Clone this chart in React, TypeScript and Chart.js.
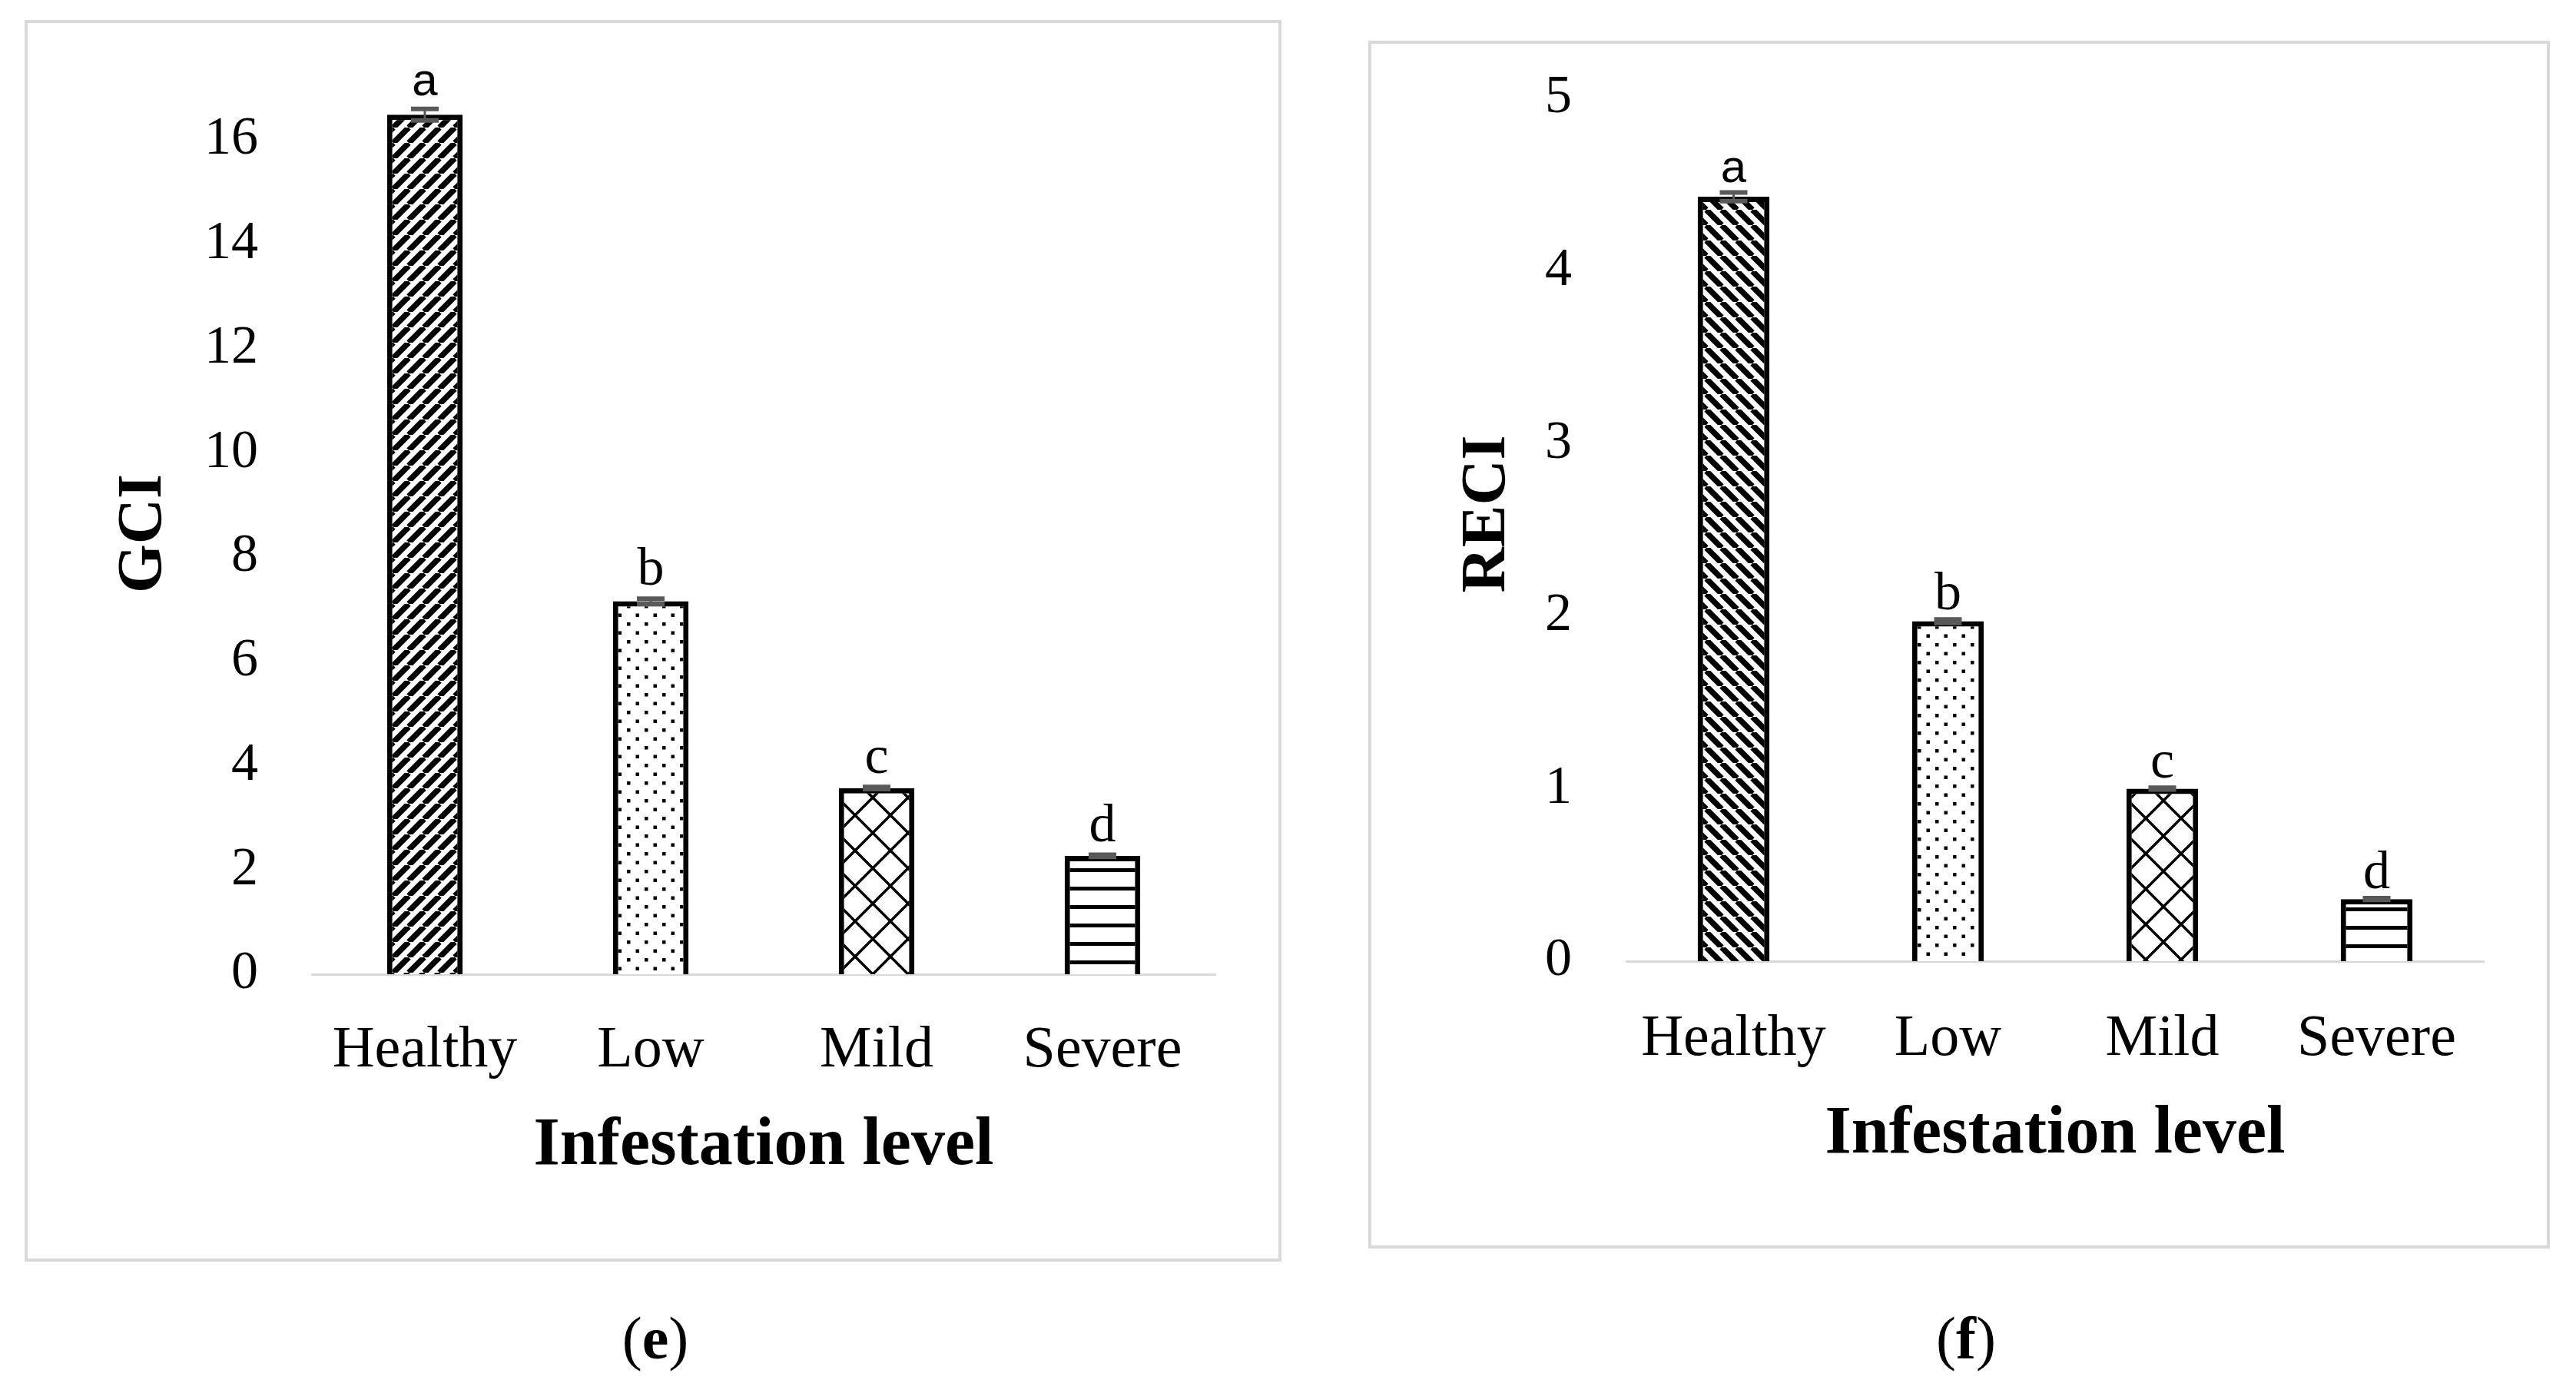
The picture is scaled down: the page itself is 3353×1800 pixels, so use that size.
import React, { useEffect, useRef } from 'react';
import { Chart, registerables } from 'chart.js';

Chart.register(...registerables);

// ---------- data ----------
const categories = ['Healthy', 'Low', 'Mild', 'Severe'];

const gciValues = [16.48, 7.15, 3.57, 2.27];
const gciErrors = [0.11, 0.05, 0.02, 0.02];
const gciLetters = ['a', 'b', 'c', 'd'];
const gciMax = 17.5;
const gciStep = 2;

const reciValues = [4.43, 1.97, 1.0, 0.36];
const reciErrors = [0.025, 0.01, 0.005, 0.005];
const reciLetters = ['a', 'b', 'c', 'd'];
const reciMax = 5;
const reciStep = 1;

const patternKinds = ['diagUp', 'dots', 'diamonds', 'hlines'];
const patternKindsRight = ['diagDown', 'dots', 'diamonds', 'hlines'];

const SERIF = "'Liberation Serif', 'Times New Roman', serif";
const SANS = "'Liberation Sans', Arial, sans-serif";

function makePattern(kind: string): CanvasPattern {
  const c = document.createElement('canvas');
  let w = 20;
  let h = 20;
  if (kind === 'dots') { w = 23; h = 23; }
  if (kind === 'diamonds') { w = 46; h = 46; }
  if (kind === 'hlines') { w = 8; h = 24; }
  c.width = w;
  c.height = h;
  const ctx = c.getContext('2d')!;
  ctx.fillStyle = '#fff';
  ctx.fillRect(0, 0, w, h);
  ctx.fillStyle = '#000';
  ctx.strokeStyle = '#000';
  if (kind === 'diagUp' || kind === 'diagDown') {
    ctx.lineWidth = 7.5;
    ctx.beginPath();
    for (const k of [-1, 0, 1]) {
      if (kind === 'diagUp') {
        ctx.moveTo(k * w, h);
        ctx.lineTo(k * w + w, 0);
      } else {
        ctx.moveTo(k * w, 0);
        ctx.lineTo(k * w + w, h);
      }
    }
    ctx.stroke();
  } else if (kind === 'dots') {
    ctx.fillRect(2, 2, 4.5, 4.5);
    ctx.fillRect(13.5, 13.5, 4.5, 4.5);
  } else if (kind === 'diamonds') {
    ctx.lineWidth = 3.5;
    ctx.beginPath();
    ctx.moveTo(0, 0);
    ctx.lineTo(w, h);
    ctx.moveTo(w, 0);
    ctx.lineTo(0, h);
    ctx.stroke();
  } else if (kind === 'hlines') {
    ctx.fillRect(0, 0, w, 5);
  }
  return ctx.createPattern(c, 'repeat')!;
}

const barExtras = {
  id: 'barExtras',
  afterDatasetsDraw(chart: any, _args: any, opts: any) {
    const { ctx } = chart;
    const meta = chart.getDatasetMeta(0);
    const yScale = chart.scales.y;
    ctx.save();
    meta.data.forEach((bar: any, i: number) => {
      const x = bar.x;
      const yHi = yScale.getPixelForValue(opts.values[i] + opts.errors[i]);
      const yLo = yScale.getPixelForValue(opts.values[i] - opts.errors[i]);
      ctx.strokeStyle = '#595959';
      ctx.lineWidth = 6;
      ctx.beginPath();
      ctx.moveTo(x - 18, yHi);
      ctx.lineTo(x + 18, yHi);
      ctx.moveTo(x - 18, yLo);
      ctx.lineTo(x + 18, yLo);
      ctx.stroke();
      ctx.lineWidth = 3;
      ctx.beginPath();
      ctx.moveTo(x, yHi);
      ctx.lineTo(x, yLo);
      ctx.stroke();
      const L = opts.letters[i];
      ctx.font = L === 'a' ? `60px ${SANS}` : `70px ${SERIF}`;
      ctx.fillStyle = '#000';
      ctx.textAlign = 'center';
      ctx.textBaseline = 'alphabetic';
      ctx.fillText(L, x, yHi - opts.gap);
    });
    ctx.restore();
  },
};

type PanelProps = {
  left: number;
  top: number;
  width: number;
  height: number;
  values: number[];
  errors: number[];
  letters: string[];
  kinds: string[];
  yTitle: string;
  yMax: number;
  yStep: number;
  yAxisWidth: number;
  padTop: number;
  tickPad: number;
  catPad: number;
  xTitlePad: number;
  gap: number;
};

function Panel(p: PanelProps) {
  const ref = useRef<HTMLCanvasElement | null>(null);
  useEffect(() => {
    if (!ref.current) return;
    const patterns = p.kinds.map(makePattern);
    const chart = new Chart(ref.current, {
      type: 'bar',
      data: {
        labels: categories,
        datasets: [
          {
            data: p.values,
            backgroundColor: patterns as any,
            borderColor: '#000',
            borderWidth: 7,
            borderSkipped: 'start',
            categoryPercentage: 0.335,
            barPercentage: 1,
          },
        ],
      },
      options: {
        animation: false,
        responsive: false,
        devicePixelRatio: 1,
        layout: { padding: { top: p.padTop, right: 86, bottom: 0, left: 0 } },
        plugins: {
          legend: { display: false },
          tooltip: { enabled: false },
          barExtras: { values: p.values, errors: p.errors, letters: p.letters, gap: p.gap },
        } as any,
        scales: {
          x: {
            grid: { display: false, drawTicks: false },
            border: { display: true, color: '#d9d9d9', width: 3 },
            ticks: { color: '#000', font: { family: SERIF, size: 76 }, padding: p.catPad },
            title: {
              display: true,
              text: 'Infestation level',
              color: '#000',
              font: { family: SERIF, size: 88, weight: 'bold' },
              padding: { top: 0, bottom: p.xTitlePad },
            },
            afterFit: (s: any) => {
              s.height = 374;
              s.paddingLeft = 0;
              s.paddingRight = 0;
            },
          },
          y: {
            min: 0,
            max: p.yMax,
            grid: { display: false, drawTicks: false },
            border: { display: false },
            ticks: {
              stepSize: p.yStep,
              includeBounds: false,
              color: '#000',
              font: { family: SERIF, size: 70 },
              padding: p.tickPad,
            },
            title: {
              display: true,
              text: p.yTitle,
              color: '#000',
              font: { family: SERIF, size: 82, weight: 'bold' },
              padding: { top: 107, bottom: 0 },
            },
            afterFit: (s: any) => {
              s.width = p.yAxisWidth;
              s.paddingTop = 0;
              s.paddingBottom = 0;
            },
          },
        },
      } as any,
      plugins: [barExtras],
    });
    return () => chart.destroy();
  }, []);
  return (
    <>
      <canvas
        ref={ref}
        width={p.width}
        height={p.height}
        style={{ position: 'absolute', left: p.left, top: p.top, width: p.width, height: p.height }}
      />
      <div
        style={{
          position: 'absolute',
          left: p.left,
          top: p.top,
          width: p.width,
          height: p.height,
          boxSizing: 'border-box',
          border: '4px solid #d9d9d9',
          pointerEvents: 'none',
        }}
      />
    </>
  );
}

function PanelLabel({ x, y, letter }: { x: number; y: number; letter: string }) {
  return (
    <div
      style={{
        position: 'absolute',
        left: x,
        top: y,
        transform: 'translate(-50%, -50%)',
        fontFamily: SERIF,
        fontSize: 78,
        lineHeight: 1,
        color: '#000',
        whiteSpace: 'nowrap',
      }}
    >
      (<b>{letter}</b>)
    </div>
  );
}

export default function App() {
  return (
    <div style={{ position: 'absolute', left: 0, top: 0, width: 3353, height: 1800, background: '#fff', overflow: 'hidden' }}>
      <Panel
        left={32}
        top={26}
        width={1636}
        height={1616}
        values={gciValues}
        errors={gciErrors}
        letters={gciLetters}
        kinds={patternKinds}
        yTitle={'GCI\u00a0\u00a0'}
        yMax={gciMax}
        yStep={gciStep}
        yAxisWidth={374}
        padTop={54}
        tickPad={70}
        catPad={54}
        xTitlePad={97}
        gap={18}
      />
      <Panel
        left={1781}
        top={53}
        width={1538}
        height={1572}
        values={reciValues}
        errors={reciErrors}
        letters={reciLetters}
        kinds={patternKindsRight}
        yTitle={'\u00a0\u00a0RECI'}
        yMax={reciMax}
        yStep={reciStep}
        yAxisWidth={336}
        padTop={75}
        tickPad={71}
        catPad={56}
        xTitlePad={95}
        gap={13}
      />
      <PanelLabel x={853} y={1742} letter="e" />
      <PanelLabel x={2559} y={1742} letter="f" />
    </div>
  );
}
